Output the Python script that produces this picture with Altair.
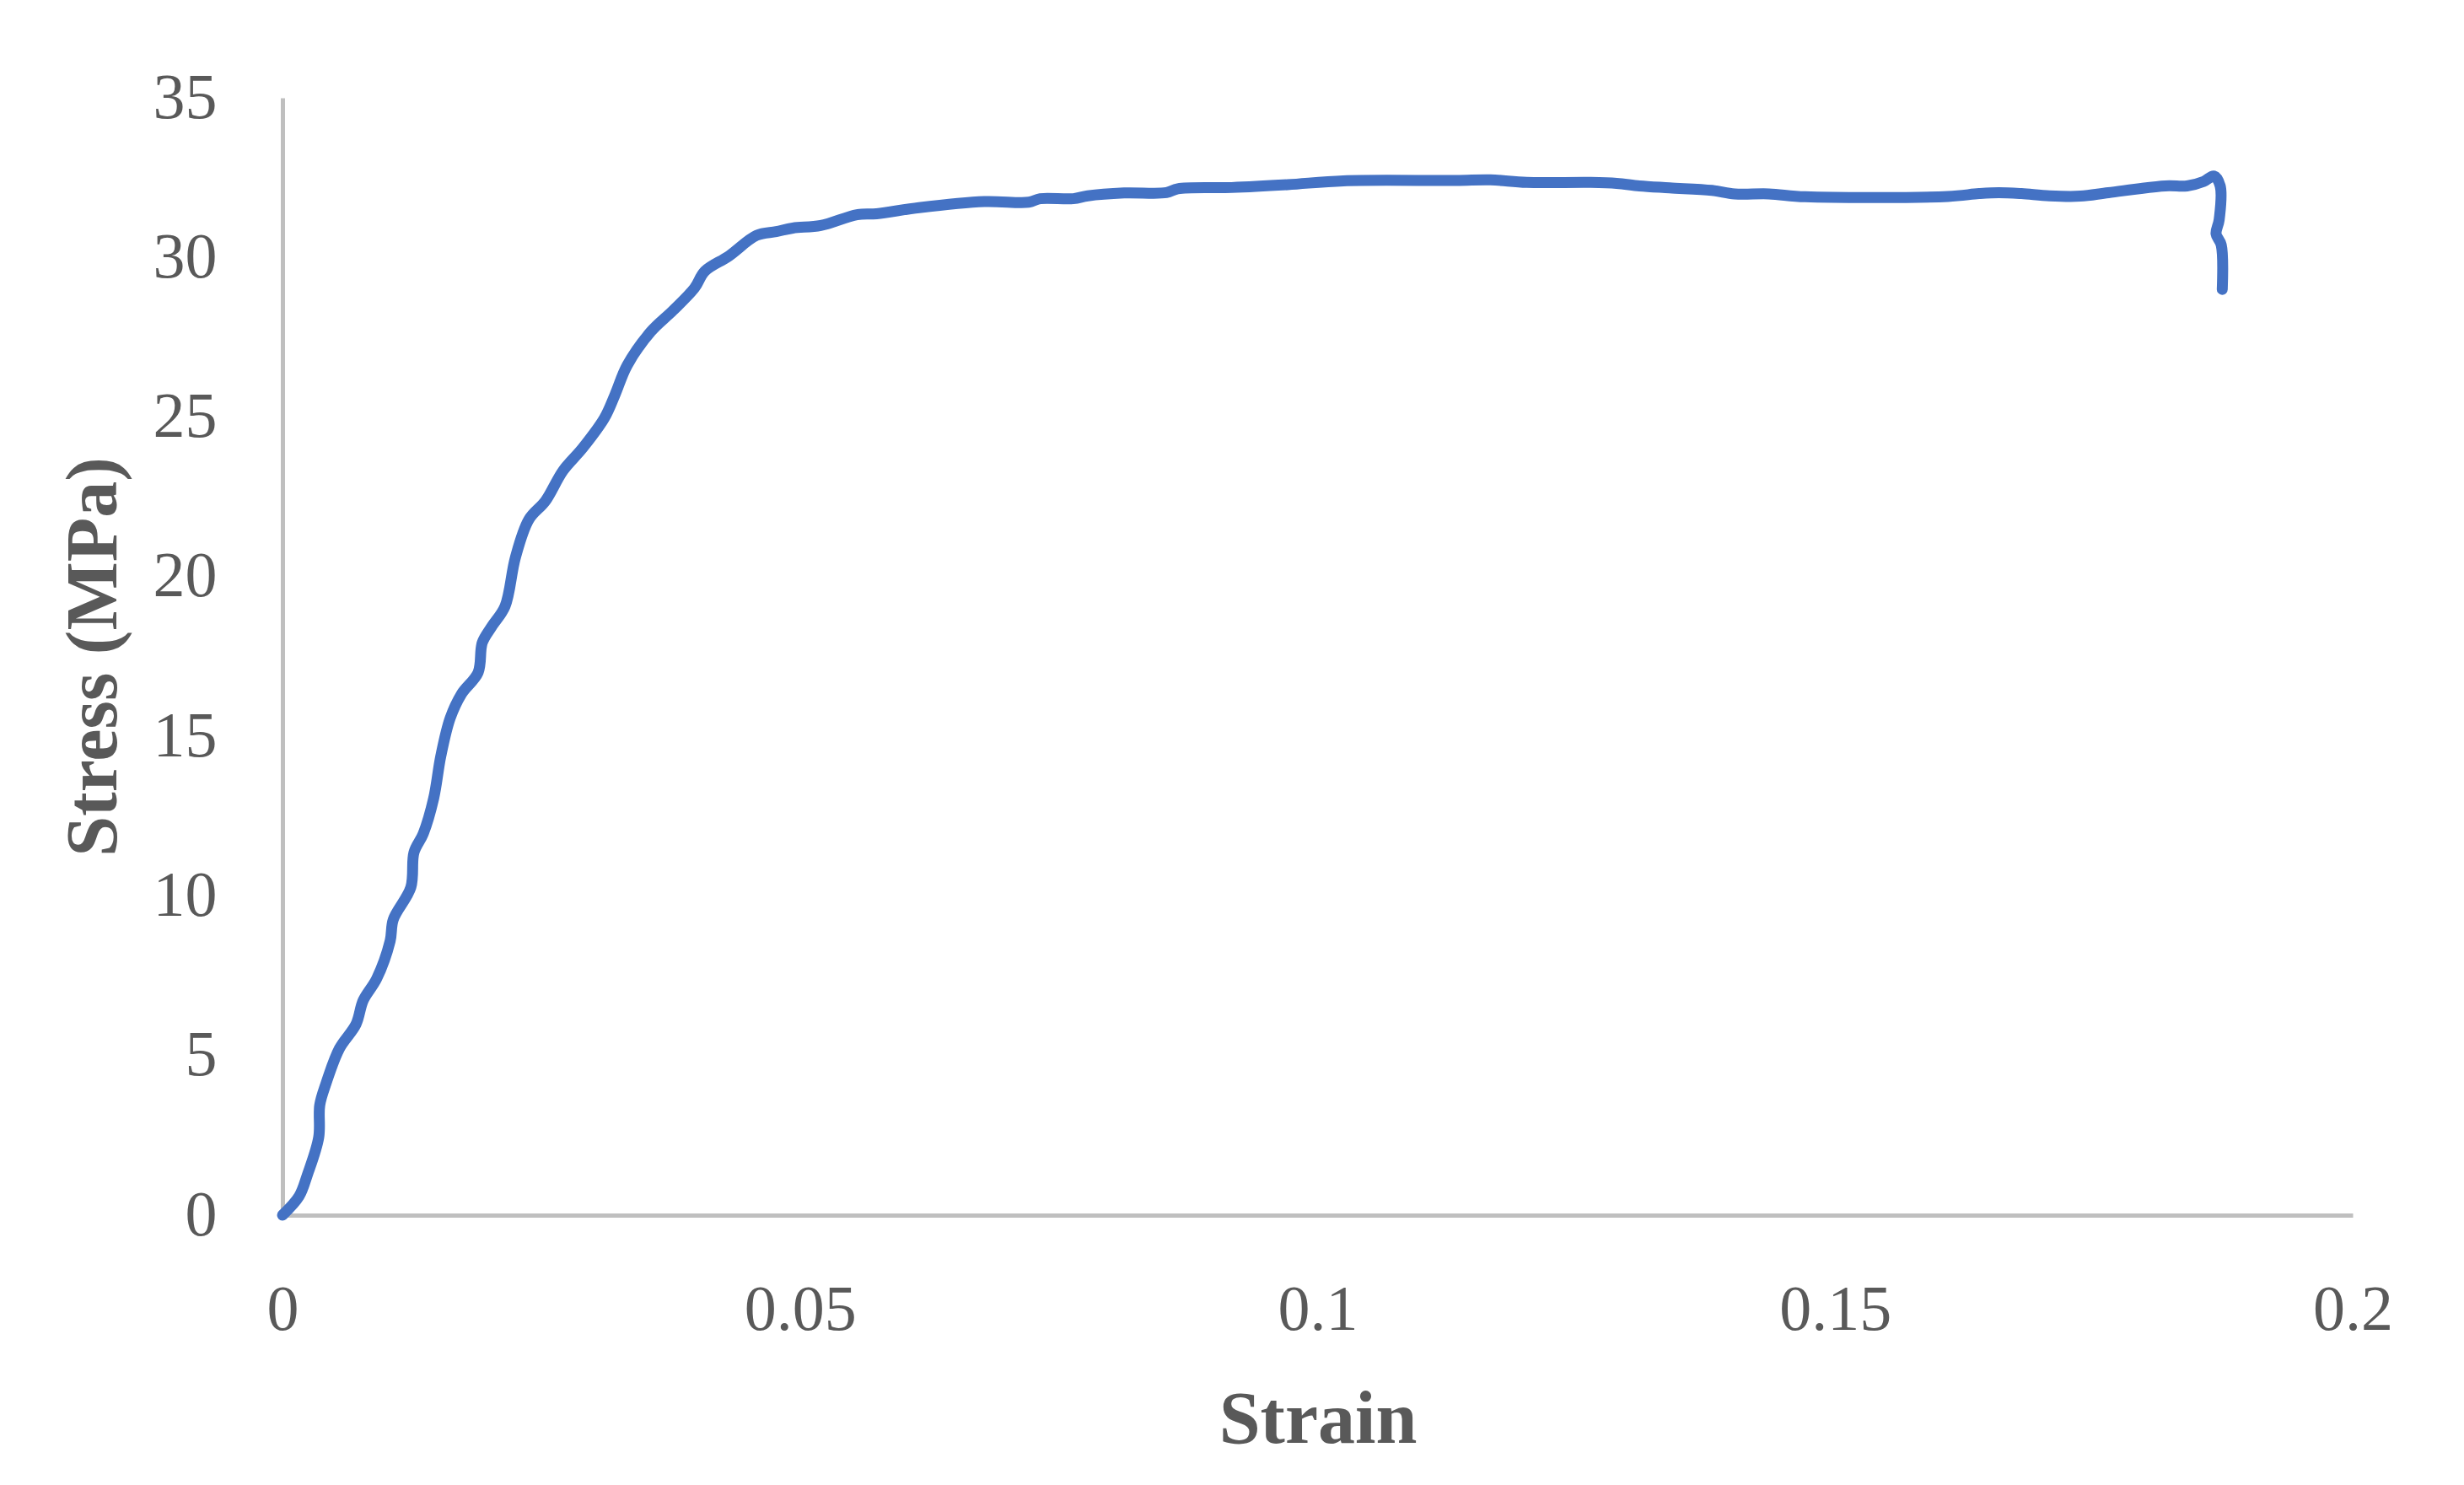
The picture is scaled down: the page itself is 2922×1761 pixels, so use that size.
import altair as alt
import pandas as pd

strain = [0, 0.0016, 0.0024, 0.0035, 0.0036, 0.0042, 0.0055, 0.0071, 0.0078, 0.0091,
          0.0104, 0.0107, 0.0124, 0.0127, 0.0136, 0.0146, 0.0153, 0.0162, 0.0173, 0.0189,
          0.0193, 0.0202, 0.0215, 0.0225, 0.0238, 0.0254, 0.0271, 0.0290, 0.0311, 0.0321,
          0.0333, 0.0356, 0.0377, 0.0398, 0.0408, 0.0431, 0.0458, 0.0477, 0.0493, 0.0520,
          0.0555, 0.0574, 0.0615, 0.0678, 0.0721, 0.0732, 0.0764, 0.0778, 0.0813, 0.0854,
          0.0865, 0.0917, 0.0971, 0.1025, 0.1134, 0.1167, 0.1202, 0.1264, 0.1289, 0.1311,
          0.1340, 0.1381, 0.1403, 0.1436, 0.1471, 0.1609, 0.1639, 0.1658, 0.1680, 0.1707,
          0.1737, 0.1764, 0.1819, 0.1840, 0.1856, 0.1866, 0.1872, 0.1871, 0.1868, 0.1873,
          0.1874]
stress = [0, 0.59, 1.26, 2.44, 3.45, 4.12, 5.22, 5.98, 6.73, 7.41,
          8.59, 9.26, 10.27, 11.36, 11.95, 13.05, 14.39, 15.57, 16.33, 17.0,
          17.93, 18.43, 19.07, 20.6, 21.79, 22.37, 23.32, 24.03, 24.97, 25.68,
          26.62, 27.68, 28.33, 29.04, 29.57, 30.04, 30.69, 30.81, 30.92, 31.0,
          31.34, 31.37, 31.56, 31.75, 31.73, 31.84, 31.84, 31.93, 32.02, 32.03,
          32.15, 32.19, 32.28, 32.40, 32.41, 32.43, 32.35, 32.35, 32.32, 32.24,
          32.18, 32.10, 31.99, 31.99, 31.90, 31.91, 32.0, 32.03, 32.0, 31.93,
          31.92, 32.03, 32.24, 32.24, 32.38, 32.55, 32.24, 31.18, 30.74, 30.39,
          29.0]

x_ticks = [0, 0.05, 0.1, 0.15, 0.2]
y_ticks = [0, 5, 10, 15, 20, 25, 30, 35]

df = pd.DataFrame({"strain": strain, "stress": stress, "idx": list(range(len(strain)))})

FONT = "Liberation Serif"
GREY = "#595959"

W, H = 2455, 1325

chart = alt.Chart(df).mark_line(
    color="#4472C4", strokeWidth=13, strokeCap="round", strokeJoin="round",
    interpolate="catmull-rom"
).encode(
    x=alt.X("strain:Q",
            scale=alt.Scale(domain=[0, 0.2], nice=False, zero=False),
            axis=alt.Axis(values=x_ticks, format="~g", title="Strain",
                          grid=False, ticks=False, tickSize=0,
                          domainColor="#BFBFBF", domainWidth=5,
                          labelFont=FONT, labelFontSize=76, labelColor=GREY,
                          labelBaseline="middle", labelPadding=112,
                          labelFlush=False, labelOverlap=False,
                          titleFont=FONT, titleFontSize=88, titleFontWeight="bold",
                          titleColor=GREY, titleX=W / 2, titleY=243,
                          titleBaseline="middle", titleAlign="center")),
    y=alt.Y("stress:Q",
            scale=alt.Scale(domain=[0, 35], nice=False),
            axis=alt.Axis(values=y_ticks, title="Stress (MPa)",
                          grid=False, ticks=False, tickSize=0,
                          domainColor="#BFBFBF", domainWidth=5,
                          labelFont=FONT, labelFontSize=76, labelColor=GREY,
                          labelPadding=78, labelFlush=False, labelOverlap=False,
                          titleFont=FONT, titleFontSize=86, titleFontWeight="bold",
                          titleColor=GREY, titleAngle=270, titleX=-224, titleY=H / 2,
                          titleBaseline="middle", titleAlign="center")),
    order="idx:Q",
).properties(
    width=W, height=H,
    autosize=alt.AutoSizeParams(type="none"),
    padding={"left": 327, "top": 108, "right": 120, "bottom": 300},
    background="white",
).configure_view(stroke=None)

chart.save("out.html", embed_options={"renderer": "svg", "actions": False})
